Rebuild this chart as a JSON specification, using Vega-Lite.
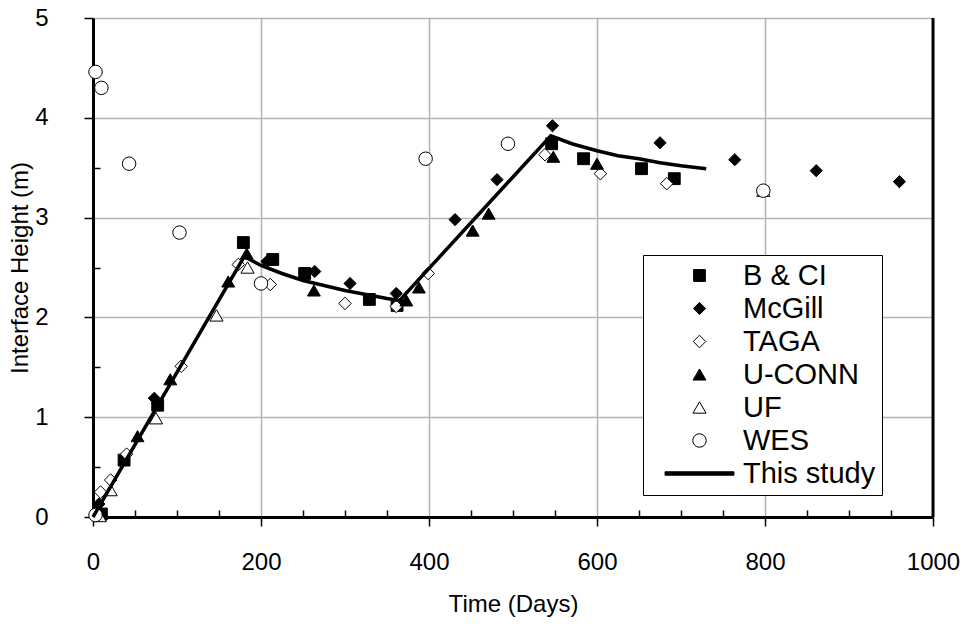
{
  "$schema": "https://vega.github.io/schema/vega-lite/v6.json",
  "width": 840,
  "height": 499,
  "autosize": {"type": "none"},
  "padding": {"left": 93, "top": 18, "right": 39, "bottom": 115},
  "background": "white",
  "config": {
    "view": {"stroke": null},
    "font": "Liberation Sans",
    "axisX": {
      "values": [0, 40, 80, 120, 160, 200, 240, 280, 320, 360, 400, 440, 480, 520, 560, 600, 640, 680, 720, 760, 800, 840, 880, 920, 960, 1000],
      "labelExpr": "datum.value % 200 === 0 ? format(datum.value, 'd') : ''",
      "labelOverlap": false,
      "labelFlush": false,
      "grid": true,
      "gridColor": {"condition": {"test": "datum.value % 200 === 0", "value": "#b4b4b4"}, "value": "transparent"},
      "gridWidth": 1.5,
      "tickSize": {"condition": {"test": "datum.value % 200 === 0", "value": 9}, "value": -7},
      "tickColor": "black",
      "tickWidth": 1.5,
      "domainColor": "black",
      "domainWidth": 3,
      "labelFontSize": 24,
      "labelColor": "black",
      "labelPadding": 24,
      "titleFontSize": 24,
      "titleFontWeight": "normal",
      "titleColor": "black",
      "titlePadding": 18
    },
    "axisY": {
      "values": [0, 0.2, 0.4, 0.6, 0.8, 1, 1.2, 1.4, 1.6, 1.8, 2, 2.2, 2.4, 2.6, 2.8, 3, 3.2, 3.4, 3.6, 3.8, 4, 4.2, 4.4, 4.6, 4.8, 5],
      "labelExpr": "abs(datum.value - round(datum.value)) < 0.001 ? format(datum.value, 'd') : ''",
      "labelOverlap": false,
      "labelFlush": false,
      "grid": true,
      "gridColor": {"condition": {"test": "abs(datum.value - round(datum.value)) < 0.001", "value": "#b4b4b4"}, "value": "transparent"},
      "gridWidth": 1.5,
      "tickSize": {"condition": {"test": "abs(datum.value - round(datum.value)) < 0.001", "value": 9}, "value": -7},
      "tickColor": "black",
      "tickWidth": 1.5,
      "domainColor": "black",
      "domainWidth": 3,
      "labelFontSize": 24,
      "labelColor": "black",
      "labelPadding": 36,
      "titleFontSize": 24,
      "titleFontWeight": "normal",
      "titleColor": "black",
      "titlePadding": 2
    }
  },
  "datasets": {
    "obs": [
      {"series": "B & CI", "day": 10, "h": 0.03},
      {"series": "B & CI", "day": 37, "h": 0.57},
      {"series": "B & CI", "day": 77, "h": 1.12},
      {"series": "B & CI", "day": 179, "h": 2.75},
      {"series": "B & CI", "day": 214, "h": 2.58},
      {"series": "B & CI", "day": 252, "h": 2.44},
      {"series": "B & CI", "day": 329, "h": 2.18},
      {"series": "B & CI", "day": 362, "h": 2.12},
      {"series": "B & CI", "day": 546, "h": 3.74},
      {"series": "B & CI", "day": 584, "h": 3.59},
      {"series": "B & CI", "day": 653, "h": 3.49},
      {"series": "B & CI", "day": 692, "h": 3.39},
      {"series": "McGill", "day": 7, "h": 0.13},
      {"series": "McGill", "day": 73, "h": 1.19},
      {"series": "McGill", "day": 207, "h": 2.56},
      {"series": "McGill", "day": 264, "h": 2.46},
      {"series": "McGill", "day": 306, "h": 2.34},
      {"series": "McGill", "day": 361, "h": 2.24},
      {"series": "McGill", "day": 431, "h": 2.98},
      {"series": "McGill", "day": 481, "h": 3.38},
      {"series": "McGill", "day": 547, "h": 3.92},
      {"series": "McGill", "day": 675, "h": 3.75},
      {"series": "McGill", "day": 764, "h": 3.58},
      {"series": "McGill", "day": 861, "h": 3.47},
      {"series": "McGill", "day": 960, "h": 3.36},
      {"series": "TAGA", "day": 9, "h": 0.25},
      {"series": "TAGA", "day": 21, "h": 0.37},
      {"series": "TAGA", "day": 40, "h": 0.63},
      {"series": "TAGA", "day": 105, "h": 1.51},
      {"series": "TAGA", "day": 173, "h": 2.53},
      {"series": "TAGA", "day": 211, "h": 2.33},
      {"series": "TAGA", "day": 300, "h": 2.14},
      {"series": "TAGA", "day": 361, "h": 2.11},
      {"series": "TAGA", "day": 399, "h": 2.44},
      {"series": "TAGA", "day": 538, "h": 3.63},
      {"series": "TAGA", "day": 604, "h": 3.44},
      {"series": "TAGA", "day": 683, "h": 3.34},
      {"series": "U-CONN", "day": 6, "h": 0.1},
      {"series": "U-CONN", "day": 53, "h": 0.81},
      {"series": "U-CONN", "day": 92, "h": 1.38},
      {"series": "U-CONN", "day": 161, "h": 2.36},
      {"series": "U-CONN", "day": 183, "h": 2.64},
      {"series": "U-CONN", "day": 263, "h": 2.27},
      {"series": "U-CONN", "day": 373, "h": 2.17},
      {"series": "U-CONN", "day": 388, "h": 2.3},
      {"series": "U-CONN", "day": 452, "h": 2.87},
      {"series": "U-CONN", "day": 471, "h": 3.04},
      {"series": "U-CONN", "day": 548, "h": 3.61},
      {"series": "U-CONN", "day": 600, "h": 3.54},
      {"series": "UF", "day": 8, "h": 0.01},
      {"series": "UF", "day": 21, "h": 0.27},
      {"series": "UF", "day": 75, "h": 0.99},
      {"series": "UF", "day": 147, "h": 2.02},
      {"series": "UF", "day": 184, "h": 2.5},
      {"series": "UF", "day": 798, "h": 3.27},
      {"series": "WES", "day": 3, "h": 0.02},
      {"series": "WES", "day": 3, "h": 4.46},
      {"series": "WES", "day": 10, "h": 4.3},
      {"series": "WES", "day": 43, "h": 3.54},
      {"series": "WES", "day": 103, "h": 2.85},
      {"series": "WES", "day": 200, "h": 2.34},
      {"series": "WES", "day": 396, "h": 3.59},
      {"series": "WES", "day": 494, "h": 3.74},
      {"series": "WES", "day": 798, "h": 3.27}
    ],
    "model": [
      {"day": 0, "h": 0.0},
      {"day": 180, "h": 2.61},
      {"day": 200, "h": 2.52},
      {"day": 225, "h": 2.44},
      {"day": 250, "h": 2.37},
      {"day": 275, "h": 2.32},
      {"day": 300, "h": 2.27},
      {"day": 325, "h": 2.23},
      {"day": 350, "h": 2.19},
      {"day": 365, "h": 2.17},
      {"day": 545, "h": 3.82},
      {"day": 570, "h": 3.74},
      {"day": 600, "h": 3.67},
      {"day": 625, "h": 3.62},
      {"day": 650, "h": 3.59},
      {"day": 675, "h": 3.55},
      {"day": 700, "h": 3.52},
      {"day": 730, "h": 3.49}
    ]
  },
  "layer": [
    {
      "data": {"name": "obs"},
      "mark": {"type": "point", "stroke": "black", "opacity": 1, "fillOpacity": 1, "strokeOpacity": 1},
      "encoding": {
        "x": {
          "field": "day", "type": "quantitative", "title": "Time (Days)",
          "scale": {"domain": [0, 1000], "nice": false, "zero": false}
        },
        "y": {
          "field": "h", "type": "quantitative", "title": "Interface Height (m)",
          "scale": {"domain": [0, 5], "nice": false}
        },
        "shape": {
          "field": "series", "type": "nominal",
          "scale": {
            "domain": ["B & CI", "McGill", "TAGA", "U-CONN", "UF", "WES", "This study"],
            "range": ["square", "diamond", "diamond", "triangle-up", "triangle-up", "circle", "M-5,-0.25L5,-0.25L5,0.25L-5,0.25Z"]
          },
          "legend": {
            "title": null,
            "orient": "none",
            "legendX": 550,
            "legendY": 237,
            "padding": 6,
            "rowPadding": 3,
            "symbolOffset": 36,
            "labelOffset": 29,
            "labelFontSize": 29,
            "labelFont": "Liberation Sans",
            "labelColor": "black",
            "strokeColor": "black",
            "fillColor": "white",
            "symbolStrokeColor": "black",
            "labelLimit": 300
          }
        },
        "fill": {
          "field": "series", "type": "nominal",
          "scale": {
            "domain": ["B & CI", "McGill", "TAGA", "U-CONN", "UF", "WES", "This study"],
            "range": ["black", "black", "white", "black", "white", "white", "black"]
          }
        },
        "size": {
          "field": "series", "type": "nominal",
          "scale": {
            "domain": ["B & CI", "McGill", "TAGA", "U-CONN", "UF", "WES", "This study"],
            "range": [140, 190, 150, 170, 170, 120, 100]
          }
        },
        "strokeWidth": {
          "field": "series", "type": "nominal",
          "scale": {
            "domain": ["B & CI", "McGill", "TAGA", "U-CONN", "UF", "WES", "This study"],
            "range": [1, 1, 2, 1, 2, 2, 1]
          }
        }
      }
    },
    {
      "data": {"name": "model"},
      "mark": {"type": "line", "color": "black", "strokeWidth": 3.5},
      "encoding": {
        "x": {"field": "day", "type": "quantitative", "title": "Time (Days)"},
        "y": {"field": "h", "type": "quantitative", "title": "Interface Height (m)"}
      }
    },
    {
      "data": {"name": "model"},
      "transform": [{"filter": "datum.day === 0"}],
      "mark": {"type": "rule", "color": "black", "strokeWidth": 3},
      "encoding": {
        "x": {"datum": 1000, "type": "quantitative", "title": "Time (Days)"}
      }
    }
  ]
}
